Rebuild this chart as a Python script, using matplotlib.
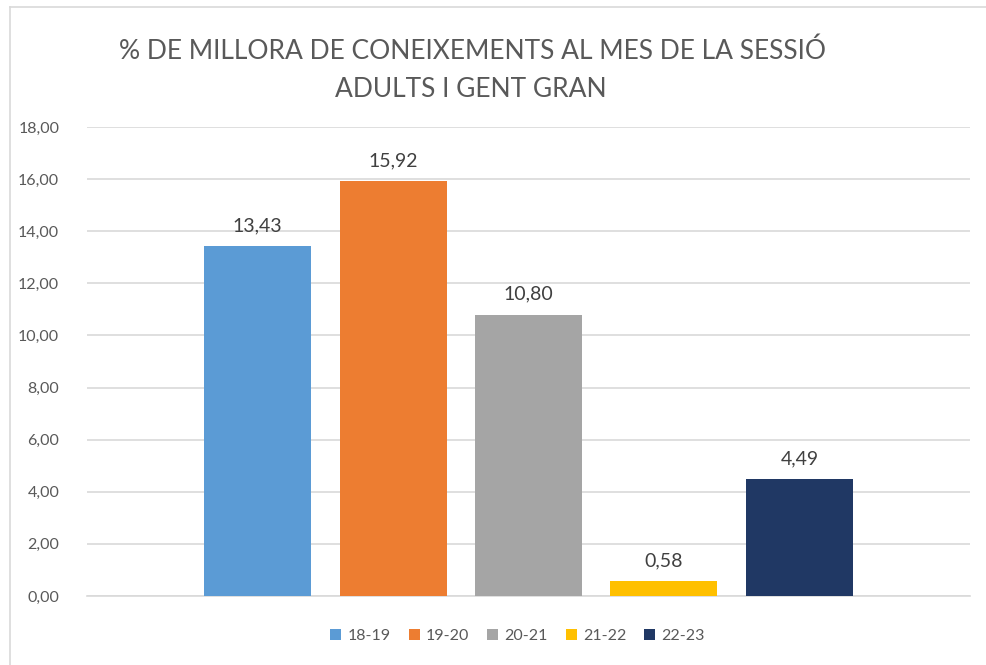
import matplotlib.pyplot as plt
from matplotlib.lines import Line2D
from matplotlib.patches import Patch

# Data
seasons = ["18-19", "19-20", "20-21", "21-22", "22-23"]
values = [13.43, 15.92, 10.80, 0.58, 4.49]
colors = ["#5B9BD5", "#ED7D31", "#A5A5A5", "#FFC000", "#203864"]
yticks = [0, 2, 4, 6, 8, 10, 12, 14, 16, 18]

plt.rcParams['font.family'] = ['Lato', 'DejaVu Sans']
text_color = "#595959"

fig = plt.figure(figsize=(9.86, 6.65), dpi=100)
ax = fig.add_axes([87 / 986, 69 / 665, 883 / 986, 469 / 665])

x = list(range(len(seasons)))
bars = ax.bar(x, values, width=0.79, color=colors, zorder=3)
for xi, v in zip(x, values):
    ax.text(xi, v + 0.45, f"{v:.2f}".replace(".", ","), ha="center", va="bottom",
            fontsize=14, color="#404040")

ax.set_xlim(-1.26, len(seasons) - 1 + 1.26)
ax.set_ylim(0, 18)
ax.set_yticks(yticks)
ax.set_yticklabels([f"{t:.2f}".replace(".", ",") for t in yticks], fontsize=11.5, color=text_color)
ax.set_xticks([])
ax.tick_params(axis="y", length=0, pad=20)
ax.grid(axis="y", color="#D9D9D9", linewidth=1.2, zorder=0)
for side in ["top", "right", "left"]:
    ax.spines[side].set_visible(False)
ax.spines["bottom"].set_color("#D9D9D9")
ax.spines["bottom"].set_linewidth(1.2)

fig.text(0.479, 0.923, "% DE MILLORA DE CONEIXEMENTS AL MES DE LA SESSIÓ",
         ha="center", va="center", fontsize=19, color=text_color)
fig.text(0.478, 0.866, "ADULTS I GENT GRAN",
         ha="center", va="center", fontsize=19, color=text_color)

handles = [Patch(facecolor=c, label=s) for c, s in zip(colors, seasons)]
fig.legend(handles=handles, loc="center", bbox_to_anchor=(0.525, 0.043), ncol=5,
           frameon=False, fontsize=11.5, labelcolor=text_color, handlelength=0.7,
           handleheight=0.7, handletextpad=0.4, columnspacing=1.1)

# chart border
fig.add_artist(Line2D([10 / 986, 10 / 986], [0, 1 - 7 / 665], color="#D9D9D9", lw=1.2))
fig.add_artist(Line2D([10 / 986, 1], [1 - 7 / 665, 1 - 7 / 665], color="#D9D9D9", lw=1.2))

fig.savefig("out.png", dpi=100)
